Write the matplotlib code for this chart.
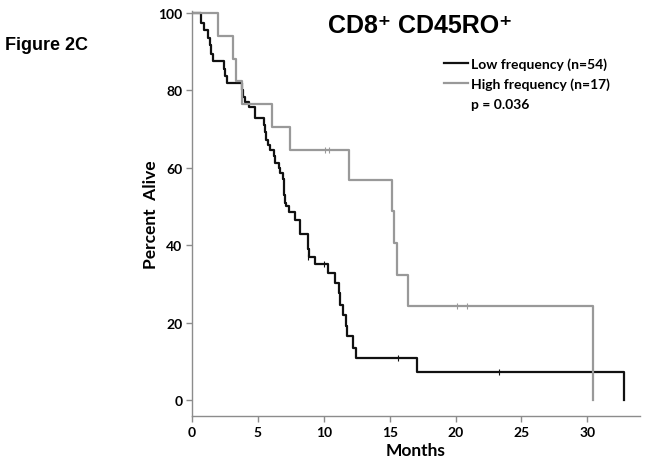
"""
Curva de sobrevida (Kaplan-Meier) - CD8+ CD45RO+
"""
import matplotlib
matplotlib.use('Agg')
import matplotlib.pyplot as plt
from matplotlib.lines import Line2D

# Dados (tempo em meses, % vivos a partir desse tempo)
low_t = [0, 0.65, 0.92, 1.18, 1.38, 1.46, 1.56, 2.4, 2.53, 2.68, 3.8, 3.88, 4.05, 4.3,
         4.8, 5.5, 5.55, 5.62, 5.8, 5.93, 6.19, 6.31, 6.57, 6.69, 6.87, 6.95, 7.02,
         7.07, 7.17, 7.35, 7.8, 8.18, 8.22, 8.77, 8.82, 8.88, 9.32, 10.3, 10.88,
         11.15, 11.22, 11.45, 11.7, 11.8, 12.2, 12.45, 17.07, 32.8]
low_p = [100, 97.4, 95.6, 93.5, 91.7, 89.5, 87.5, 85.6, 83.8, 82.0, 80.2, 78.4, 77.0, 75.7,
         72.9, 71.1, 69.2, 67.3, 66.0, 64.6, 63.0, 61.4, 60.0, 58.6, 57.2, 55.0, 53.0,
         51.0, 50.3, 48.6, 46.6, 44.8, 42.9, 41.0, 39.0, 37.1, 35.1, 32.8, 30.2,
         27.7, 24.6, 22.0, 19.2, 16.6, 13.6, 10.9, 7.3, 0]
low_cens_t = [8.8, 10.0, 15.6, 23.3]
low_cens_p = [37.1, 35.1, 10.9, 7.3]

high_t = [0, 2.0, 3.1, 3.33, 3.8, 6.06, 7.45, 11.9, 15.15, 15.3, 15.55, 16.4, 30.4]
high_p = [100, 94.1, 88.2, 82.4, 76.5, 70.6, 64.7, 56.9, 48.8, 40.6, 32.5, 24.4, 0]
high_cens_t = [10.1, 10.4, 20.1, 20.9]
high_cens_p = [64.7, 64.7, 24.4, 24.4]

preto = '#111111'
cinza = '#999999'
fonte = ['Lato', 'DejaVu Sans']
arial = ['Liberation Sans', 'DejaVu Sans']

fig = plt.figure(figsize=(6.45, 4.64), dpi=100)
ax = fig.add_axes([192 / 645, 47 / 464, 448 / 645, 405 / 464])

ax.step(low_t, low_p, where='post', color=preto, lw=1.6)
ax.step(high_t, high_p, where='post', color=cinza, lw=1.6)
ax.plot(low_cens_t, low_cens_p, ls='none', marker='|', ms=5, mew=0.8, color=preto)
ax.plot(high_cens_t, high_cens_p, ls='none', marker='|', ms=5, mew=0.8, color=cinza)

ax.set_xlim(0, 34)
ax.set_ylim(-4, 100.5)
ax.set_xticks(range(0, 31, 5))
ax.set_yticks(range(0, 101, 20))
for s in ['top', 'right']:
    ax.spines[s].set_visible(False)
for s in ['left', 'bottom']:
    ax.spines[s].set_color('#8c8c8c')
    ax.spines[s].set_linewidth(1.0)
ax.tick_params(direction='out', length=4, width=1, color='#8c8c8c', pad=3)
for lab in ax.get_xticklabels() + ax.get_yticklabels():
    lab.set_family(fonte)
    lab.set_fontweight('bold')
    lab.set_fontsize(10)

ax.set_xlabel('Months', family=fonte, fontweight='bold', fontsize=12.5, labelpad=3)
ax.set_ylabel('Percent  Alive', family=fonte, fontweight='bold', fontsize=12.5, labelpad=-1)

# Legenda
handles = [Line2D([], [], color=preto, lw=1.6),
           Line2D([], [], color=cinza, lw=1.6),
           Line2D([], [], color='none')]
labels = ['Low frequency (n=54)', 'High frequency (n=17)', 'p = 0.036']
fig.legend(handles, labels, loc='upper left', bbox_to_anchor=(444 / 645, 1 - 58 / 464),
           frameon=False, borderpad=0, borderaxespad=0, handlelength=1.7,
           handletextpad=0.25, labelspacing=0.55,
           prop={'family': fonte, 'weight': 'bold', 'size': 10})

fig.text(420 / 645, 1 - 26 / 464, 'CD8\u207a CD45RO\u207a', ha='center', va='center',
         family=arial, fontweight='bold', fontsize=18)
fig.text(5 / 645, 1 - 45 / 464, 'Figure 2C', ha='left', va='center',
         family=arial, fontweight='bold', fontsize=13)

fig.savefig('out.png', dpi=100)
